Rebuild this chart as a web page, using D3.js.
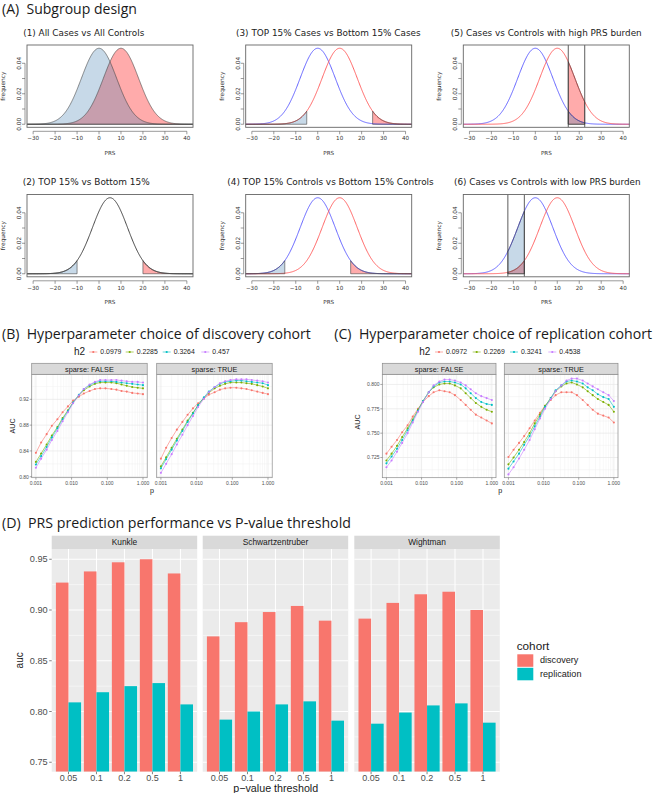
<!DOCTYPE html>
<html><head><meta charset="utf-8">
<script src="https://cdn.jsdelivr.net/npm/d3@7"></script>
<style>
html,body{margin:0;padding:0;background:#fff;}
svg{display:block;}
</style></head><body><script>
// ================= DATA =================
// Panel A: normal PRS distributions
const prsXTicks = [-30, -20, -10, 0, 10, 20, 30, 40];
const prsYTicks = [0, 0.01, 0.02, 0.03, 0.04];
const prsYLabels = [0, 0.02, 0.04];
const prsSd = 8;
const controlMean = 0, caseMean = 10, pooledMean = 5;
const subTitles = [
  "(1) All Cases vs All Controls",
  "(2) TOP 15% vs Bottom 15%",
  "(3) TOP 15% Cases vs Bottom 15% Cases",
  "(4) TOP 15% Controls vs Bottom 15% Controls",
  "(5) Cases vs Controls with high PRS burden",
  "(6) Cases vs Controls with low PRS burden"
];
// shaded areas: [curve mean, from, to, group]
const subShades = [
  [[caseMean, -Infinity, Infinity, "case"], [controlMean, -Infinity, Infinity, "control"]],
  [[pooledMean, -Infinity, -10, "control"], [pooledMean, 20, Infinity, "case"]],
  [[caseMean, -Infinity, -5, "control"], [caseMean, 25, Infinity, "case"]],
  [[controlMean, -Infinity, -15, "control"], [controlMean, 15, Infinity, "case"]],
  [[caseMean, 15, 22.5, "case"], [controlMean, 15, 22.5, "control"]],
  [[caseMean, -12.5, -5, "case"], [controlMean, -12.5, -5, "control"]]
];
// outlined curves: [mean, group]
const subCurves = [
  [],
  [[pooledMean, "all"]],
  [[controlMean, "control"], [caseMean, "case"]],
  [[controlMean, "control"], [caseMean, "case"]],
  [[controlMean, "control"], [caseMean, "case"]],
  [[controlMean, "control"], [caseMean, "case"]]
];
const subCutoffs = [[], [], [], [], [15, 22.5], [-12.5, -5]];

// Panels B & C: LDpred2 hyper-parameter grid
const pValues = [0.001,0.0014,0.002,0.0028,0.004,0.0056,0.0079,0.011,0.016,0.022,0.032,0.045,0.063,0.089,0.13,0.18,0.25,0.35,0.5,0.71,1];
const discH2 = ["0.0979", "0.2285", "0.3264", "0.457"];
const discSparseFalse = [
  [0.837,0.853,0.866,0.879,0.889,0.900,0.909,0.918,0.924,0.929,0.933,0.936,0.937,0.937,0.936,0.935,0.933,0.932,0.930,0.929,0.928],
  [0.823,0.836,0.850,0.864,0.877,0.891,0.903,0.915,0.926,0.934,0.940,0.944,0.946,0.946,0.946,0.945,0.943,0.941,0.939,0.938,0.937],
  [0.819,0.832,0.846,0.861,0.875,0.889,0.902,0.915,0.927,0.936,0.942,0.946,0.948,0.948,0.948,0.947,0.946,0.945,0.944,0.943,0.942],
  [0.814,0.828,0.842,0.857,0.871,0.886,0.900,0.914,0.926,0.936,0.943,0.947,0.950,0.950,0.950,0.950,0.949,0.948,0.947,0.947,0.946]
];
const discSparseTrue = [
  [0.828,0.845,0.860,0.873,0.885,0.896,0.906,0.914,0.921,0.927,0.931,0.935,0.937,0.938,0.938,0.937,0.936,0.934,0.932,0.930,0.928],
  [0.816,0.830,0.845,0.859,0.873,0.887,0.899,0.911,0.922,0.930,0.937,0.941,0.944,0.946,0.946,0.946,0.945,0.944,0.942,0.940,0.937],
  [0.813,0.827,0.842,0.856,0.871,0.885,0.898,0.911,0.923,0.932,0.939,0.944,0.947,0.948,0.949,0.949,0.948,0.947,0.946,0.945,0.942],
  [0.806,0.820,0.835,0.850,0.865,0.880,0.894,0.908,0.921,0.931,0.939,0.945,0.948,0.950,0.951,0.951,0.951,0.950,0.949,0.948,0.946]
];
const repH2 = ["0.0972", "0.2269", "0.3241", "0.4538"];
const repSparseFalse = [
  [0.729,0.736,0.743,0.751,0.758,0.767,0.775,0.782,0.788,0.792,0.794,0.793,0.792,0.789,0.784,0.779,0.774,0.769,0.766,0.763,0.760],
  [0.722,0.729,0.737,0.746,0.755,0.764,0.774,0.783,0.792,0.797,0.800,0.801,0.801,0.799,0.796,0.791,0.786,0.781,0.777,0.774,0.772],
  [0.719,0.726,0.734,0.743,0.753,0.763,0.773,0.783,0.792,0.798,0.802,0.803,0.803,0.802,0.800,0.796,0.791,0.786,0.782,0.780,0.779],
  [0.715,0.722,0.731,0.740,0.750,0.761,0.772,0.782,0.792,0.799,0.803,0.805,0.805,0.804,0.802,0.799,0.795,0.791,0.788,0.786,0.784]
];
const repSparseTrue = [
  [0.7255,0.733,0.740,0.747,0.755,0.763,0.771,0.778,0.784,0.789,0.792,0.792,0.792,0.789,0.784,0.779,0.774,0.770,0.768,0.766,0.761],
  [0.718,0.725,0.733,0.741,0.750,0.760,0.769,0.778,0.786,0.793,0.798,0.801,0.802,0.800,0.797,0.793,0.789,0.785,0.782,0.779,0.772],
  [0.7136,0.721,0.729,0.738,0.747,0.757,0.767,0.777,0.786,0.794,0.799,0.803,0.804,0.803,0.801,0.797,0.794,0.790,0.787,0.785,0.777],
  [0.7077,0.715,0.724,0.733,0.743,0.754,0.765,0.775,0.785,0.793,0.799,0.804,0.806,0.806,0.804,0.801,0.798,0.795,0.792,0.789,0.783]
];
const sparseLabels = ["sparse: FALSE", "sparse: TRUE"];
const pTickValues = [0.001, 0.01, 0.1, 1];
const pTickLabels = ["0.001", "0.010", "0.100", "1.000"];

// Panel D
const studies = ["Kunkle", "Schwartzentruber", "Wightman"];
const thresholds = ["0.05", "0.1", "0.2", "0.5", "1"];
const discoveryAuc = [
  [0.927, 0.938, 0.947, 0.950, 0.936],
  [0.874, 0.888, 0.898, 0.904, 0.8895],
  [0.8915, 0.907, 0.9155, 0.918, 0.900]
];
const replicationAuc = [
  [0.809, 0.819, 0.825, 0.828, 0.807],
  [0.792, 0.800, 0.807, 0.810, 0.791],
  [0.788, 0.799, 0.806, 0.808, 0.789]
];
const cohorts = ["discovery", "replication"];
const aucTicks = [0.75, 0.80, 0.85, 0.90, 0.95];
const aucMinor = [0.775, 0.825, 0.875, 0.925];

// ================= STYLE / LAYOUT =================
const W = 653, H = 793;
const SANS = '"Liberation Sans", Arial, sans-serif';
const TITLEF = '"Open Sans", "DejaVu Sans", sans-serif';
const RFONT = '"DejaVu Sans", Verdana, sans-serif';
const hue = ["#F8766D", "#7CAE00", "#00BFC4", "#C77CFF"];
const fillCol = {case: "rgba(255,0,0,0.33)", control: "rgba(70,130,180,0.30)"};
const lineCol = {case: "#ff5555", control: "#5555ff", all: "#333333"};

const svg = d3.select("body").append("svg").attr("width", W).attr("height", H)
  .style("font-family", SANS);
const defs = svg.append("defs");

function fitText(t, width) {
  const L = t.node().getComputedTextLength();
  const fs = parseFloat(t.attr("font-size"));
  if (L > 0) t.attr("font-size", (fs * width / L).toFixed(2));
}

// ---- main titles
const mainTitles = [
  ["(A)  Subgroup design", 2, 13.5, 135],
  ["(B)  Hyperparameter choice of discovery cohort", 2, 338.5, 309],
  ["(C)  Hyperparameter choice of replication cohort", 334.3, 338.5, 318],
  ["(D)  PRS prediction performance vs P-value threshold", 2, 527.5, 349]
];
mainTitles.forEach(([txt, x, y, w]) => {
  const t = svg.append("text").attr("x", x).attr("y", y).attr("font-size", 14)
    .attr("font-family", TITLEF).attr("fill", "#1a1a1a").style("white-space", "pre").text(txt);
  fitText(t, w);
});

// ================= PANEL A =================
const aCols = [27, 245.7, 463.3], aRows = [45, 194.5], aW = 166, aH = 82.3;
const aTitlePos = [[23.3, 35.5, 121], [22.7, 184.5, 127.3], [236, 35.5, 184.7], [227.3, 184.5, 206.7], [450.7, 35.5, 191], [454, 184.5, 186.7]];
const aGrid = [[0, 0], [0, 1], [1, 0], [1, 1], [2, 0], [2, 1]];
const dens = (x, m) => Math.exp(-0.5 * ((x - m) / prsSd) ** 2) / (prsSd * Math.sqrt(2 * Math.PI));
const xDomA = [-32.8, 42.8];
const sampleX = d3.range(xDomA[0] - 1, xDomA[1] + 1.01, 0.2);

subTitles.forEach((title, i) => {
  const [ci, ri] = aGrid[i];
  const L = aCols[ci], T = aRows[ri], B = T + aH, R = L + aW;
  const x = d3.scaleLinear().domain(xDomA).range([L, R]);
  const y = d3.scaleLinear().domain([-0.002, 0.052]).range([B, T]);
  const g = svg.append("g");
  const cid = "clipA" + i;
  defs.append("clipPath").attr("id", cid).append("rect").attr("x", L).attr("y", T).attr("width", aW).attr("height", aH);
  const pg = g.append("g").attr("clip-path", `url(#${cid})`);

  const shadePath = (m, a, b) => {
    const lo = Math.max(a, xDomA[0] - 1), hi = Math.min(b, xDomA[1] + 1);
    const xs = sampleX.filter(v => v > lo && v < hi);
    const pts = [[lo, 0], [lo, dens(lo, m)], ...xs.map(v => [v, dens(v, m)]), [hi, dens(hi, m)], [hi, 0]];
    return d3.line().x(d => x(d[0])).y(d => y(d[1]))(pts) + "Z";
  };
  subShades[i].forEach(([m, a, b, grp]) => {
    pg.append("path").attr("d", shadePath(m, a, b)).attr("fill", fillCol[grp]).attr("stroke", "none");
  });
  subCurves[i].forEach(([m, grp]) => {
    pg.append("path").attr("d", d3.line().x(v => x(v)).y(v => y(dens(v, m)))(sampleX))
      .attr("fill", "none").attr("stroke", lineCol[grp]).attr("stroke-width", 0.9);
  });
  subShades[i].forEach(([m, a, b]) => {
    pg.append("path").attr("d", shadePath(m, a, b)).attr("fill", "none").attr("stroke", "#444").attr("stroke-width", 0.6);
  });
  subCutoffs[i].forEach(c => {
    pg.append("line").attr("x1", x(c)).attr("x2", x(c)).attr("y1", T).attr("y2", B)
      .attr("stroke", "#333").attr("stroke-width", 0.8);
  });
  g.append("rect").attr("x", L).attr("y", T).attr("width", aW).attr("height", aH)
    .attr("fill", "none").attr("stroke", "#666").attr("stroke-width", 0.9);
  const xa = g.append("g").attr("stroke", "#555").attr("stroke-width", 0.6);
  xa.append("line").attr("x1", x(prsXTicks[0])).attr("x2", x(prsXTicks[prsXTicks.length - 1])).attr("y1", B + 4).attr("y2", B + 4);
  prsXTicks.forEach(v => xa.append("line").attr("x1", x(v)).attr("x2", x(v)).attr("y1", B + 4).attr("y2", B + 7));
  prsXTicks.forEach(v => g.append("text").attr("x", x(v)).attr("y", B + 13).attr("text-anchor", "middle")
    .attr("font-size", 5.6).attr("font-family", RFONT).attr("fill", "#333").text(d3.format("d")(v).replace("-", "\u2212")));
  const ya = g.append("g").attr("stroke", "#555").attr("stroke-width", 0.6);
  ya.append("line").attr("x1", L - 2).attr("x2", L - 2).attr("y1", y(prsYTicks[0])).attr("y2", y(prsYTicks[prsYTicks.length - 1]));
  prsYTicks.forEach(v => ya.append("line").attr("x1", L - 2).attr("x2", L - 5).attr("y1", y(v)).attr("y2", y(v)));
  prsYLabels.forEach(v => g.append("text").attr("transform", `translate(${L - 6},${y(v)}) rotate(-90)`)
    .attr("text-anchor", "middle").attr("font-size", 5.8).attr("font-family", RFONT).attr("fill", "#333").text(d3.format(".2f")(v)));
  g.append("text").attr("transform", `translate(${L - 22},${T + aH / 2}) rotate(-90)`).attr("text-anchor", "middle")
    .attr("font-size", 5.8).attr("font-family", RFONT).attr("fill", "#333").text("frequency");
  g.append("text").attr("x", L + aW / 2).attr("y", B + 27.5).attr("text-anchor", "middle")
    .attr("font-size", 5.6).attr("font-family", RFONT).attr("fill", "#333").text("PRS");
  const [tx, ty, tw] = aTitlePos[i];
  const t = g.append("text").attr("x", tx).attr("y", ty).attr("font-size", 9).attr("font-family", RFONT).attr("fill", "#222").text(title);
  fitText(t, tw);
});

// ================= PANELS B & C =================
function lineFacets(o) {
  const stripTop = 363.3, pTop = 374.3, pBot = 477.7;
  const y = d3.scaleLinear().domain(o.yDomain).range([pBot, pTop]);
  const e = 0.118;
  o.lefts.forEach((L, pi) => {
    const R = L + o.width;
    const x = d3.scaleLog().domain([Math.pow(10, -3 - e), Math.pow(10, e)]).range([L, R]);
    const g = svg.append("g");
    g.append("rect").attr("x", L).attr("y", pTop).attr("width", o.width).attr("height", pBot - pTop).attr("fill", "#fff");
    [0.0001, 0.001, 0.01, 0.1].forEach(dec => d3.range(2, 10).forEach(k => {
      const v = k * dec;
      if (v > x.domain()[0] && v < x.domain()[1])
        g.append("line").attr("x1", x(v)).attr("x2", x(v)).attr("y1", pTop).attr("y2", pBot).attr("stroke", "#F0F0F0").attr("stroke-width", 0.5);
    }));
    o.yMinor.forEach(v => g.append("line").attr("x1", L).attr("x2", R).attr("y1", y(v)).attr("y2", y(v)).attr("stroke", "#F0F0F0").attr("stroke-width", 0.5));
    pTickValues.forEach(v => g.append("line").attr("x1", x(v)).attr("x2", x(v)).attr("y1", pTop).attr("y2", pBot).attr("stroke", "#E6E6E6").attr("stroke-width", 0.7));
    o.yTicks.forEach(v => g.append("line").attr("x1", L).attr("x2", R).attr("y1", y(v)).attr("y2", y(v)).attr("stroke", "#E6E6E6").attr("stroke-width", 0.7));
    const series = o.data[pi];
    series.forEach((vals, si) => {
      const pts = pValues.map((p, k) => [p, vals[k]]);
      g.append("path").attr("d", d3.line().x(d => x(d[0])).y(d => y(d[1]))(pts))
        .attr("fill", "none").attr("stroke", hue[si]).attr("stroke-width", 0.6);
      g.selectAll(null).data(pts).enter().append("circle")
        .attr("cx", d => x(d[0])).attr("cy", d => y(d[1])).attr("r", 1.05).attr("fill", hue[si]);
    });
    g.append("rect").attr("x", L).attr("y", pTop).attr("width", o.width).attr("height", pBot - pTop)
      .attr("fill", "none").attr("stroke", "#8a8a8a").attr("stroke-width", 0.7);
    g.append("rect").attr("x", L).attr("y", stripTop).attr("width", o.width).attr("height", pTop - stripTop)
      .attr("fill", "#D9D9D9").attr("stroke", "#8a8a8a").attr("stroke-width", 0.7);
    g.append("text").attr("x", L + o.width / 2).attr("y", stripTop + 8.2).attr("text-anchor", "middle")
      .attr("font-size", 7.3).attr("fill", "#1a1a1a").text(sparseLabels[pi]);
    pTickValues.forEach((v, k) => {
      g.append("line").attr("x1", x(v)).attr("x2", x(v)).attr("y1", pBot).attr("y2", pBot + 2).attr("stroke", "#555").attr("stroke-width", 0.5);
      g.append("text").attr("x", x(v)).attr("y", pBot + 7.2).attr("text-anchor", "middle").attr("font-size", 5)
        .attr("fill", "#4d4d4d").text(pTickLabels[k]);
    });
  });
  const L0 = o.lefts[0];
  o.yTicks.forEach(v => {
    svg.append("line").attr("x1", L0 - 2).attr("x2", L0).attr("y1", y(v)).attr("y2", y(v)).attr("stroke", "#555").attr("stroke-width", 0.5);
    svg.append("text").attr("x", L0 - 2.8).attr("y", y(v) + 1.8).attr("text-anchor", "end").attr("font-size", 5)
      .attr("fill", "#4d4d4d").text(o.fmt(v));
  });
  svg.append("text").attr("transform", `translate(${o.auc[0]},${o.auc[1]}) rotate(-90)`).attr("text-anchor", "middle")
    .attr("font-size", 7.2).attr("fill", "#1a1a1a").text("AUC");
  const lastR = o.lefts[o.lefts.length - 1] + o.width;
  svg.append("text").attr("x", (o.lefts[0] + lastR) / 2).attr("y", 492.5).attr("text-anchor", "middle")
    .attr("font-size", 7.2).attr("fill", "#1a1a1a").text("p");
  svg.append("text").attr("x", o.legend.h2x).attr("y", 355.3).attr("font-size", 10).attr("fill", "#1a1a1a").text("h2");
  o.h2.forEach((lab, si) => {
    const cx = o.legend.keys[si];
    svg.append("line").attr("x1", cx - 4).attr("x2", cx + 4).attr("y1", 352).attr("y2", 352).attr("stroke", hue[si]).attr("stroke-width", 0.6);
    svg.append("circle").attr("cx", cx).attr("cy", 352).attr("r", 1.1).attr("fill", hue[si]);
    svg.append("text").attr("x", cx + 7).attr("y", 354.4).attr("font-size", 6.9).attr("fill", "#1a1a1a").text(lab);
  });
}

lineFacets({
  lefts: [31.7, 156.7], width: 115.5, yDomain: [0.7985, 0.9588],
  yTicks: [0.80, 0.84, 0.88, 0.92], yMinor: [0.82, 0.86, 0.90, 0.94],
  fmt: d3.format(".2f"), data: [discSparseFalse, discSparseTrue], h2: discH2,
  auc: [14.5, 426], legend: {h2x: 74, keys: [93.3, 129.7, 166.7, 205.3]}
});
lineFacets({
  lefts: [382.3, 504.3], width: 113.7, yDomain: [0.7043, 0.8104],
  yTicks: [0.725, 0.75, 0.775, 0.80], yMinor: [0.7125, 0.7375, 0.7625, 0.7875],
  fmt: d3.format(".3f"), data: [repSparseFalse, repSparseTrue], h2: repH2,
  auc: [360, 422], legend: {h2x: 419.3, keys: [439, 476.7, 514, 552.3]}
});

// ================= PANEL D =================
(function () {
  const sTop = 535.7, pTop = 549, pBot = 771.7, pw = 145.5;
  const lefts = [51.7, 202.7, 354.3];
  const y = d3.scaleLinear().domain([0.7407, 0.9601]).range([pBot, pTop]);
  const cohortCol = ["#F8766D", "#00BFC4"];
  defs.append("clipPath").attr("id", "clipD").selectAll("rect").data(lefts).enter().append("rect")
    .attr("x", d => d).attr("y", pTop).attr("width", pw).attr("height", pBot - pTop);
  studies.forEach((s, i) => {
    const L = lefts[i];
    const x = d3.scalePoint().domain(thresholds).range([L, L + pw]).padding(0.6);
    const bw = 0.45 * x.step();
    const g = svg.append("g");
    g.append("rect").attr("x", L).attr("y", pTop).attr("width", pw).attr("height", pBot - pTop).attr("fill", "#EBEBEB");
    aucMinor.forEach(v => g.append("line").attr("x1", L).attr("x2", L + pw).attr("y1", y(v)).attr("y2", y(v)).attr("stroke", "#fff").attr("stroke-width", 0.5));
    aucTicks.forEach(v => g.append("line").attr("x1", L).attr("x2", L + pw).attr("y1", y(v)).attr("y2", y(v)).attr("stroke", "#fff").attr("stroke-width", 1));
    thresholds.forEach(t => g.append("line").attr("x1", x(t)).attr("x2", x(t)).attr("y1", pTop).attr("y2", pBot).attr("stroke", "#fff").attr("stroke-width", 1));
    const bars = g.append("g").attr("clip-path", "url(#clipD)");
    [discoveryAuc[i], replicationAuc[i]].forEach((vals, ci) => {
      bars.selectAll(null).data(thresholds).enter().append("rect")
        .attr("x", (t) => x(t) - bw + ci * bw).attr("width", bw)
        .attr("y", (t, k) => y(vals[k])).attr("height", (t, k) => pBot - y(vals[k]))
        .attr("fill", cohortCol[ci]);
    });
    g.append("rect").attr("x", L).attr("y", sTop).attr("width", pw).attr("height", pTop - sTop).attr("fill", "#D9D9D9");
    g.append("text").attr("x", L + pw / 2).attr("y", sTop + 9.5).attr("text-anchor", "middle").attr("font-size", 8.4)
      .attr("fill", "#1a1a1a").text(s);
    thresholds.forEach(t => {
      g.append("line").attr("x1", x(t)).attr("x2", x(t)).attr("y1", pBot).attr("y2", pBot + 2.5).attr("stroke", "#333").attr("stroke-width", 0.6);
      g.append("text").attr("x", x(t)).attr("y", pBot + 9.2).attr("text-anchor", "middle").attr("font-size", 9)
        .attr("fill", "#4d4d4d").text(t);
    });
  });
  aucTicks.forEach(v => {
    svg.append("line").attr("x1", lefts[0] - 2.5).attr("x2", lefts[0]).attr("y1", y(v)).attr("y2", y(v)).attr("stroke", "#333").attr("stroke-width", 0.6);
    svg.append("text").attr("x", lefts[0] - 4).attr("y", y(v) + 3.2).attr("text-anchor", "end").attr("font-size", 9.2)
      .attr("fill", "#4d4d4d").text(d3.format(".2f")(v));
  });
  svg.append("text").attr("transform", `translate(23,${(pTop + pBot) / 2}) rotate(-90)`).attr("text-anchor", "middle")
    .attr("font-size", 10).attr("fill", "#1a1a1a").text("auc");
  const xl = svg.append("text").attr("x", (lefts[0] + lefts[2] + pw) / 2).attr("y", 792).attr("text-anchor", "middle")
    .attr("font-size", 10).attr("fill", "#1a1a1a").text("p\u2212value threshold");
  fitText(xl, 85);
  const ct = svg.append("text").attr("x", 516.7).attr("y", 649.5).attr("font-size", 11).attr("fill", "#1a1a1a").text("cohort");
  fitText(ct, 32.7);
  cohorts.forEach((c, k) => {
    const ky = 654.3 + k * 13.5;
    svg.append("rect").attr("x", 517.3).attr("y", ky).attr("width", 16).attr("height", 12.5).attr("fill", cohortCol[k]);
    svg.append("text").attr("x", 540).attr("y", ky + 9).attr("font-size", 9.1).attr("fill", "#1a1a1a").text(c);
  });
})();
</script></body></html>
